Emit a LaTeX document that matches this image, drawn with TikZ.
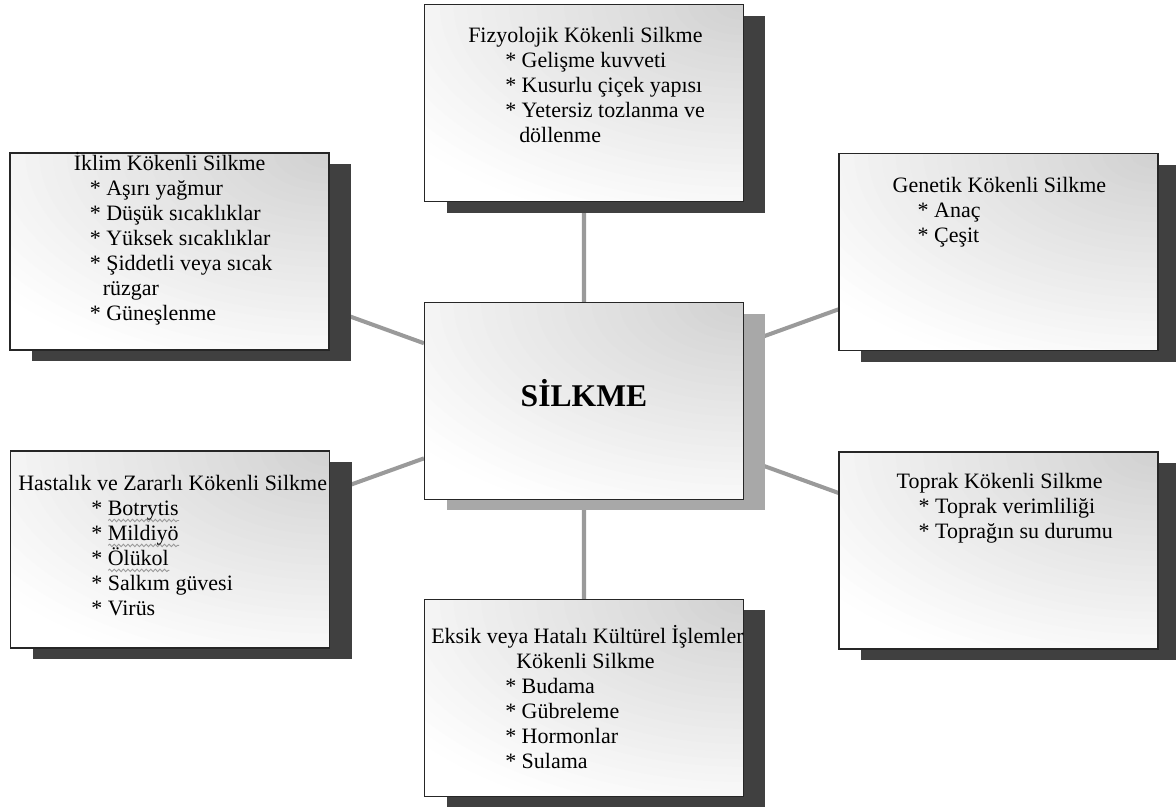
\documentclass[tikz,border=0pt]{standalone}
\usepackage{fontspec}
\setmainfont{Liberation Serif}
\usetikzlibrary{positioning, shadows, backgrounds, decorations.pathmorphing}

\definecolor{shadowdark}{HTML}{404040}
\definecolor{shadowlight}{HTML}{A8A8A8}
\definecolor{linkgray}{HTML}{9A9A9A}

\newsavebox\squigbox
\newcommand\squig[1]{\sbox\squigbox{#1}\rlap{\tikz[baseline=0pt]\draw[black!40, line width=0.5pt,
		decorate, decoration={snake, segment length=2.6pt, amplitude=0.7pt}]
		(0pt,-2.6pt) -- (\wd\squigbox,-2.6pt);}#1}

\tikzset{
	box/.style={draw=black!85, line width=0.7pt, minimum width=6.38cm, minimum height=3.94cm,
		fill=white,
		% gray in the top right corner, white towards the bottom left
		path picture={\foreach \k [evaluate=\k as \g using 18.3-0.6*\k] in {30,29,...,1}
			\fill[black!\g] (path picture bounding box.north east)
			circle[x radius=\k*0.276cm, y radius=\k*0.152cm];},
		drop shadow={shadow xshift=0.44cm, shadow yshift=-0.22cm, fill=#1, opacity=1}},
	box/.default=shadowdark,
	txt/.style={inner sep=0pt, align=left, anchor=north west, font=\fontsize{12.5}{14.2}\selectfont,
		execute at begin node=\rule{0pt}{12pt}},
	link/.style={draw=linkgray, line width=2.3pt}
}

\begin{document}
\begin{tikzpicture}[x=0.02cm, y=-0.02cm, node distance=2cm, on grid]
			\useasboundingbox (0,0) rectangle (1176,810);

			\node[box=shadowlight] (0) at (584,401) {};
			\node[box, above=5.96cm of 0] (1) {};
			\node[box, above right=2.98cm and 8.29cm of 0] (2) {};
			\node[box, below right=2.99cm and 8.29cm of 0] (3) {};
			\node[box, below=5.94cm of 0] (4) {};
			\node[box, below left=2.97cm and 8.28cm of 0] (5) {};
			\node[box, above left=2.99cm and 8.29cm of 0] (6) {};

			\begin{scope}[on background layer]
				\draw[link] (0) -- (1) (0) -- (2) (0) -- (3)
				(0) -- (4) (0) -- (5) (0) -- (6);
			\end{scope}

			\node[anchor=base, inner sep=0pt, font=\fontsize{18}{20}\selectfont\bfseries] (s) at ([shift={(0,6)}]0.center) {SİLKME};

			\node[txt] (t1) at ([shift={(44,23)}]1.north west)
			{Fizyolojik Kökenli Silkme\\
			\hspace*{0.74cm}* Gelişme kuvveti\\
			\hspace*{0.74cm}* Kusurlu çiçek yapısı\\
			\hspace*{0.74cm}* Yetersiz tozlanma ve\\
			\hspace*{1.02cm}döllenme};
			\node[txt] (t2) at ([shift={(54,24)}]2.north west)
			{Genetik Kökenli Silkme\\
			\hspace*{0.5cm}* Anaç\\
			\hspace*{0.5cm}* Çeşit};
			\node[txt] (t3) at ([shift={(58,22)}]3.north west)
			{Toprak Kökenli Silkme\\
			\hspace*{0.44cm}* Toprak verimliliği\\
			\hspace*{0.44cm}* Toprağın su durumu};
			\node[txt] (t4) at ([shift={(7,26)}]4.north west)
			{Eksik veya Hatalı Kültürel İşlemler\\
			\hspace*{1.7cm}Kökenli Silkme\\
			\hspace*{1.48cm}* Budama\\
			\hspace*{1.48cm}* Gübreleme\\
			\hspace*{1.48cm}* Hormonlar\\
			\hspace*{1.48cm}* Sulama};
			\node[txt] (t5) at ([shift={(8,25)}]5.north west)
			{Hastalık ve Zararlı Kökenli Silkme\\
			\hspace*{1.46cm}* \squig{Botrytis}\\
			\hspace*{1.46cm}* \squig{Mildiyö}\\
			\hspace*{1.46cm}* \squig{Ölükol}\\
			\hspace*{1.46cm}* Salkım güvesi\\
			\hspace*{1.46cm}* Virüs};
			\node[txt] (t6) at ([shift={(64,0)}]6.north west)
			{İklim Kökenli Silkme\\
			\hspace*{0.32cm}* Aşırı yağmur\\
			\hspace*{0.32cm}* Düşük sıcaklıklar\\
			\hspace*{0.32cm}* Yüksek sıcaklıklar\\
			\hspace*{0.32cm}* Şiddetli veya sıcak\\
			\hspace*{0.58cm}rüzgar\\
			\hspace*{0.32cm}* Güneşlenme};

		\end{tikzpicture}
\end{document}
